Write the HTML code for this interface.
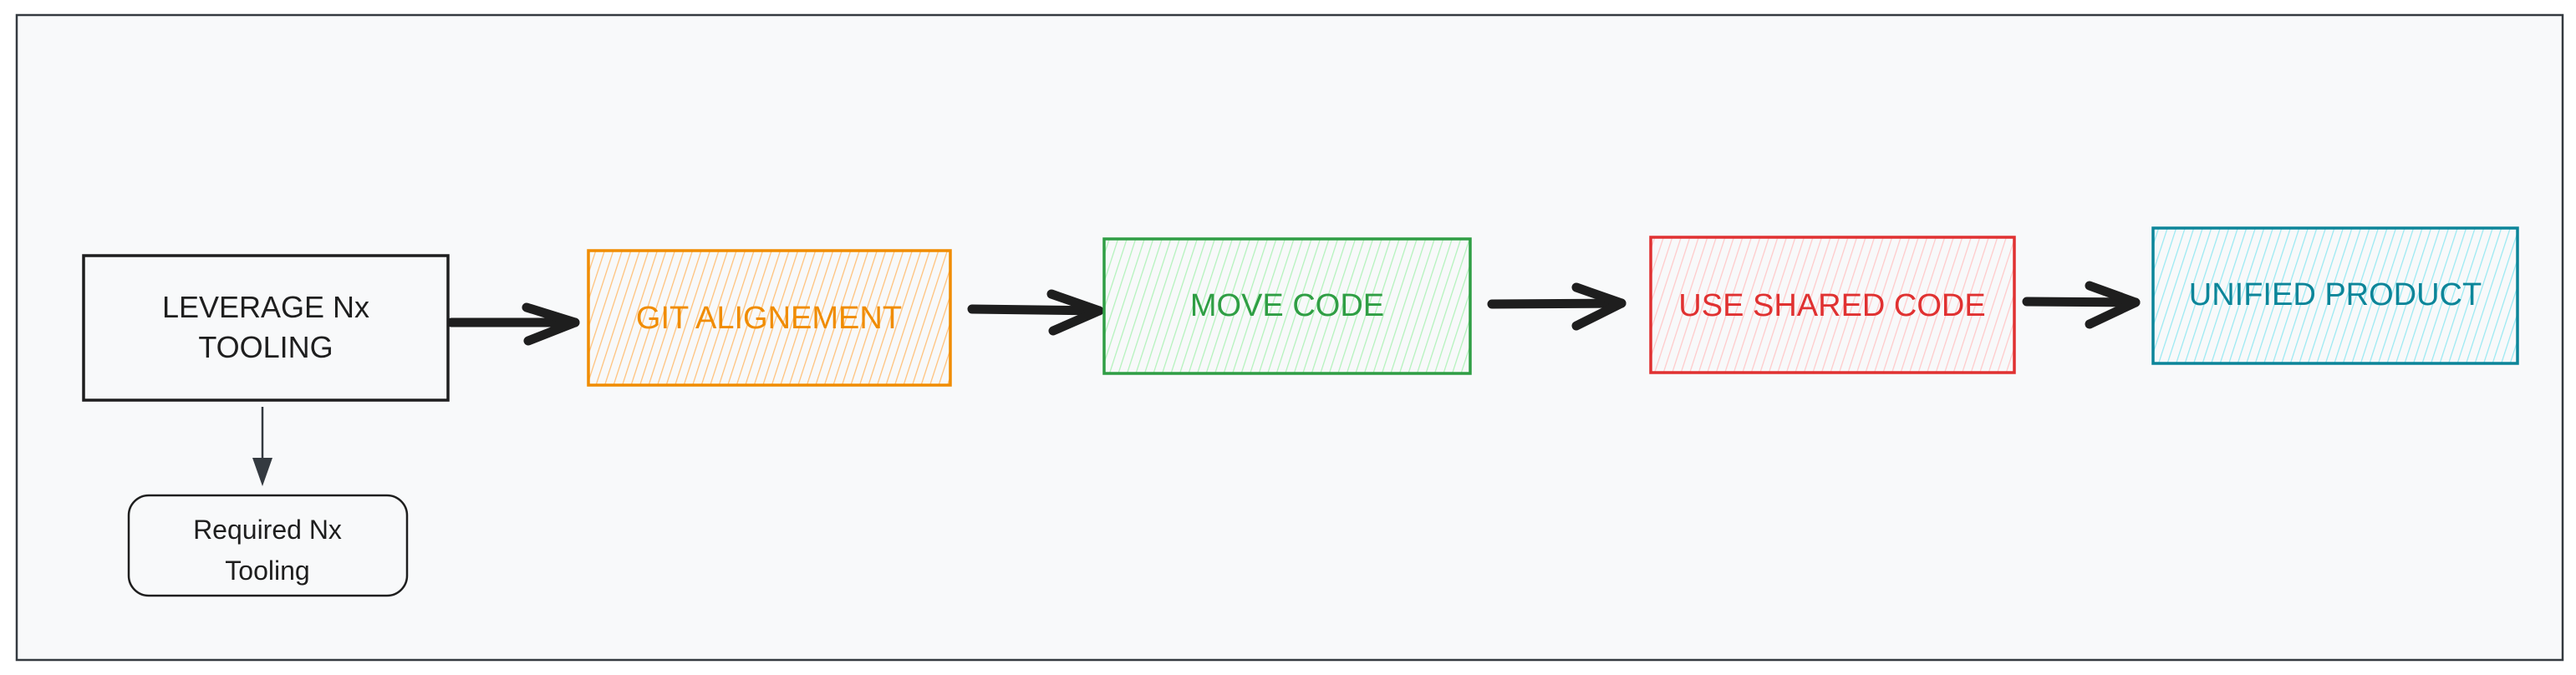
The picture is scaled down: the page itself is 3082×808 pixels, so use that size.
<!DOCTYPE html>
<html><head><style>
html,body{margin:0;padding:0;background:#fff;}
svg{display:block;}
text{font-family:"Liberation Sans",sans-serif;}
</style></head><body>
<svg width="3082" height="808" viewBox="0 0 3082 808" xmlns="http://www.w3.org/2000/svg">
<defs>
<pattern id="ho" width="10" height="10" patternUnits="userSpaceOnUse" patternTransform="rotate(18)"><line x1="0" y1="0" x2="0" y2="10" stroke="#ffc078" stroke-width="2.5"/></pattern>
<pattern id="hg" width="10" height="10" patternUnits="userSpaceOnUse" patternTransform="rotate(18)"><line x1="0" y1="0" x2="0" y2="10" stroke="#b2f2bb" stroke-width="2.5"/></pattern>
<pattern id="hr" width="10" height="10" patternUnits="userSpaceOnUse" patternTransform="rotate(18)"><line x1="0" y1="0" x2="0" y2="10" stroke="#ffc9c9" stroke-width="2.5"/></pattern>
<pattern id="hc" width="10" height="10" patternUnits="userSpaceOnUse" patternTransform="rotate(18)"><line x1="0" y1="0" x2="0" y2="10" stroke="#99e9f2" stroke-width="2.5"/></pattern>
</defs>
<rect x="20" y="18" width="3046" height="772" fill="#f8f9fa" stroke="#343a40" stroke-width="2.5"/>

<rect x="100" y="306" width="436" height="173" fill="none" stroke="#1e1e1e" stroke-width="3.5"/>
<text x="318" y="380" font-size="36" text-anchor="middle" fill="#1e1e1e">LEVERAGE Nx</text>
<text x="318" y="428" font-size="36" text-anchor="middle" fill="#1e1e1e">TOOLING</text>

<line x1="314" y1="487" x2="314" y2="565" stroke="#343a40" stroke-width="2.5"/>
<polygon points="302,548 326,548 314,582" fill="#343a40"/>
<rect x="154" y="593" width="333" height="120" rx="24" fill="none" stroke="#1e1e1e" stroke-width="2.5"/>
<text x="320" y="645" font-size="32" text-anchor="middle" fill="#1e1e1e">Required Nx</text>
<text x="320" y="694" font-size="32" text-anchor="middle" fill="#1e1e1e">Tooling</text>

<g stroke="#1e1e1e" stroke-width="11" fill="none" stroke-linecap="round" stroke-linejoin="round">
<line x1="540" y1="386" x2="688" y2="386"/><polyline points="630,368 688,386 632,408"/>
<line x1="1163" y1="370" x2="1315" y2="372"/><polyline points="1258,352 1315,372 1260,396"/>
<line x1="1785" y1="364" x2="1940" y2="363"/><polyline points="1886,344 1940,363 1886,390"/>
<line x1="2425" y1="361" x2="2555" y2="362"/><polyline points="2500,342 2555,362 2500,388"/>
</g>

<rect x="704" y="300" width="433" height="161" fill="url(#ho)" stroke="#f08c00" stroke-width="3.5"/>
<text x="920" y="393" font-size="38" text-anchor="middle" fill="#f08c00">GIT ALIGNEMENT</text>
<rect x="1321" y="286" width="438" height="161" fill="url(#hg)" stroke="#2f9e44" stroke-width="3.5"/>
<text x="1540" y="378" font-size="38" text-anchor="middle" fill="#2f9e44">MOVE CODE</text>
<rect x="1975" y="284" width="435" height="162" fill="url(#hr)" stroke="#e03131" stroke-width="3.5"/>
<text x="2192" y="378" font-size="38" text-anchor="middle" fill="#e03131">USE SHARED CODE</text>
<rect x="2576" y="273" width="436" height="162" fill="url(#hc)" stroke="#0c8599" stroke-width="3.5"/>
<text x="2794" y="365" font-size="38" text-anchor="middle" fill="#0c8599">UNIFIED PRODUCT</text>
</svg>
</body></html>
